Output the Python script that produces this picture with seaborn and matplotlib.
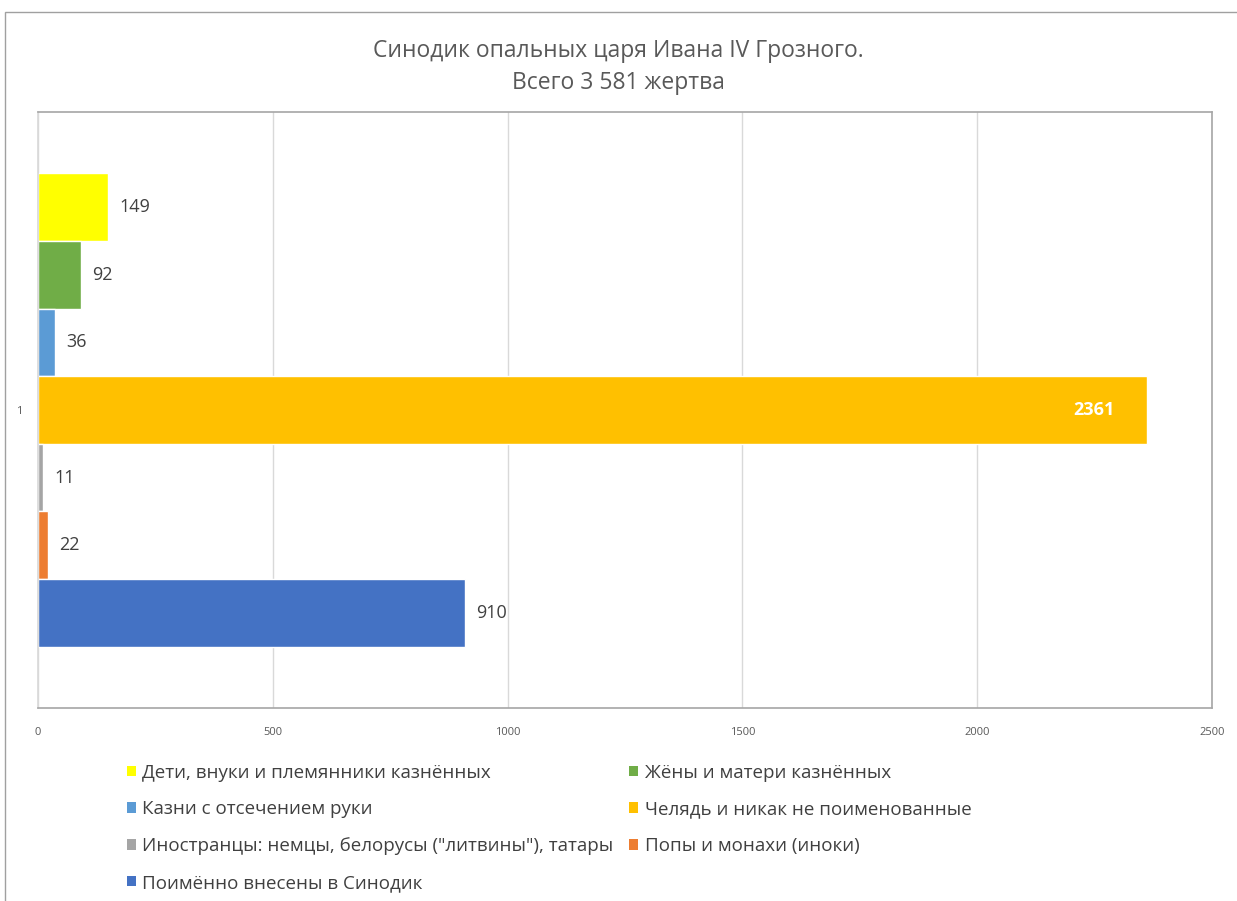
import matplotlib
matplotlib.use("Agg")
import matplotlib.pyplot as plt
import seaborn as sns
import pandas as pd
from matplotlib.patches import Rectangle, Patch

title = "Синодик опальных царя Ивана IV Грозного.\nВсего 3 581 жертва"
category = "1"
series = [
    "Дети, внуки и племянники казнённых",
    "Жёны и матери казнённых",
    "Казни с отсечением руки",
    "Челядь и никак не поименованные",
    "Иностранцы: немцы, белорусы (\"литвины\"), татары",
    "Попы и монахи (иноки)",
    "Поимённо внесены в Синодик",
]
values = [149, 92, 36, 2361, 11, 22, 910]
colors = ["#FFFF00", "#70AD47", "#5B9BD5", "#FFC000", "#A5A5A5", "#ED7D31", "#4472C4"]
xticks = [0, 500, 1000, 1500, 2000, 2500]

df = pd.DataFrame({"cat": [category] * len(series), "series": series, "value": values})

sns.set_theme(style="white")
plt.rcParams["font.family"] = ["Open Sans", "DejaVu Sans"]

W, H = 1237, 901
fig = plt.figure(figsize=(W / 100, H / 100), dpi=100)
ax = fig.add_axes([38 / W, 1 - 708 / H, (1212 - 38) / W, (708 - 112) / H])

sns.barplot(data=df, y="cat", x="value", hue="series", hue_order=series,
            palette=colors, orient="h", width=0.794, dodge=True, ax=ax,
            saturation=1, legend=False)

ax.set_xlim(0, 2500)
ax.set_ylim(0.5, -0.5)
ax.set_xticks(xticks)
ax.set_xticklabels([str(t) for t in xticks], fontsize=8, color="#595959")
ax.tick_params(axis="x", length=0, pad=14)
ax.tick_params(axis="y", length=0, pad=11, labelsize=8, labelcolor="#595959")
ax.set_xlabel("")
ax.set_ylabel("")
ax.grid(axis="x", color="#D9D9D9", linewidth=1)
ax.set_axisbelow(True)
ax.spines["left"].set_color("#D9D9D9")
for s in ["top", "right", "bottom"]:
    ax.spines[s].set_color("#A6A6A6")
    ax.spines[s].set_linewidth(1.2)

for cont, v in zip(ax.containers, values):
    p = cont.patches[0]
    yc = p.get_y() + p.get_height() / 2
    if v > 2000:
        ax.annotate(str(v), (p.get_width(), yc), xytext=(-23, 0), textcoords="offset points",
                    ha="right", va="center", fontsize=13, color="white", fontweight="bold")
    else:
        ax.annotate(str(v), (p.get_width(), yc), xytext=(8, 0), textcoords="offset points",
                    ha="left", va="center", fontsize=13, color="#404040")

fig.text(618 / W, 1 - 67 / H, title, ha="center", va="center", fontsize=16.5,
         color="#595959", linespacing=1.45)

handles = [Patch(facecolor=c, edgecolor="none") for c in colors]
order = [0, 2, 4, 6, 1, 3, 5]
fig.legend([handles[i] for i in order], [series[i] for i in order], ncol=2,
           loc="upper left", bbox_to_anchor=(119 / W, 1 - 756 / H), frameon=False,
           fontsize=13.5, labelcolor="#404040", handlelength=0.5, handleheight=0.5,
           handletextpad=0.35, columnspacing=0.8, labelspacing=1.0, borderaxespad=0)

fig.patches.append(Rectangle((5 / W, -0.05), 1.2, 1 - 12 / H + 0.05, transform=fig.transFigure,
                             fill=False, edgecolor="#A0A0A0", linewidth=1))

fig.savefig("out.png", dpi=100)
